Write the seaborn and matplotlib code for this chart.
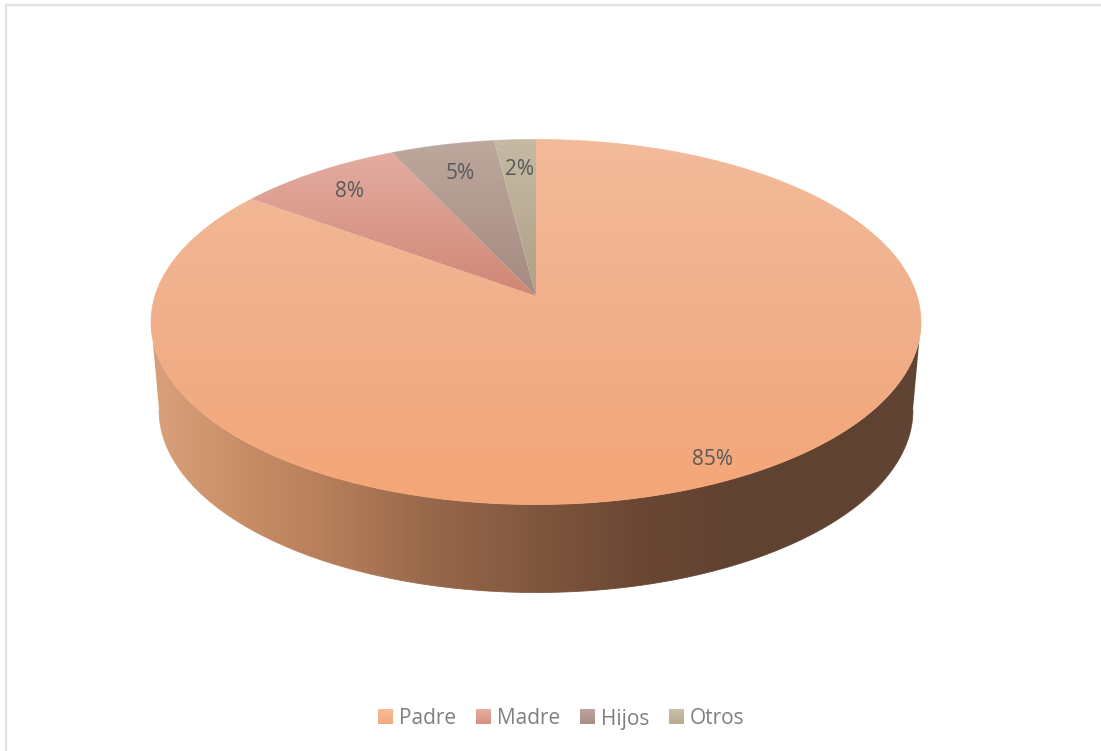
import numpy as np
import matplotlib
matplotlib.use("Agg")
import matplotlib.pyplot as plt
from matplotlib.collections import LineCollection
from matplotlib.patches import Polygon, Patch
from matplotlib.lines import Line2D
import seaborn as sns

# Household member shares
categories = ["Padre", "Madre", "Hijos", "Otros"]
shares = [85, 8, 5, 2]
label_radius = [0.90, 0.84, 0.80, 0.80]

# Top-to-bottom shading of each slice on the upper face
face_stops = [
    ["#F3BB9A", "#F0AF8A", "#F4A677"],
    ["#E4ACA1", "#DA9A8B", "#D08674"],
    ["#BDA89E", "#B1998F", "#A48A80"],
    ["#C6BAA4", "#BBAD95", "#AFA086"],
]
# Legend swatch shading
swatch_stops = [
    ["#F9BC98", "#F4A87A"],
    ["#E6AFA3", "#D68F7E"],
    ["#BBA69E", "#A88E84"],
    ["#CBBEAA", "#B9A98D"],
]

# Left-to-right shading of the outer wall
wall_colors = ["#D9A17B", "#C78D66", "#B27B58", "#96664A", "#80573E",
               "#6C4834", "#604231", "#604231", "#604433"]

sns.set_theme(style="white")
plt.rcParams["font.family"] = ["Open Sans", "DejaVu Sans"]
TEXT = "#595959"

# Perspective disk on a pixel-sized canvas
CX, CY = 536.0, 322.0
RX, RY = 381.0, 182.5
TILT = 0.142
WALL_DROP, WALL_SHRINK = 88.0, 0.979


def project(theta, r=1.0):
    """Map a clockwise angle from twelve o'clock on the disk to the canvas."""
    sx, cy = r * np.sin(theta), r * np.cos(theta)
    den = 1 + TILT * cy
    return CX + RX * sx / den, CY - (RY * cy + RY * TILT) / den


def vertical_shade(colors):
    """Column image and colormap for a top-to-bottom blend."""
    return np.linspace(0, 1, 512).reshape(-1, 1), sns.blend_palette(colors, as_cmap=True)


fig = plt.figure(figsize=(11.01, 7.51), dpi=100)
ax = fig.add_axes([0, 0, 1, 1])
ax.set_axis_off()

# Outer wall: lower half of the rim joined to the lower half of the floor ellipse
t = np.linspace(0, np.pi, 300)
upper = np.column_stack([CX + 385 * np.cos(t), CY + RY * np.sin(t)])
lower = np.column_stack([CX + 385 * WALL_SHRINK * np.cos(t),
                         CY + WALL_DROP + RY * np.sin(t)])
wall = Polygon(np.vstack([upper, lower[::-1]]), closed=True, fc="none", ec="none")
ax.add_patch(wall)
wall_cmap = sns.blend_palette(wall_colors, as_cmap=True)
WALL_LEFT, WALL_RIGHT = 150, 922
img = ax.imshow(np.linspace(0, 1, 512).reshape(1, -1), cmap=wall_cmap, aspect="auto",
                extent=[WALL_LEFT, WALL_RIGHT, 600, 320], zorder=1)
img.set_clip_path(wall)

# Hairline along the floor edge, tinted with the wall colour beneath it
segments = np.stack([lower[:-1], lower[1:]], axis=1)
tint = wall_cmap((lower[:-1, 0] - WALL_LEFT) / (WALL_RIGHT - WALL_LEFT))
ax.add_collection(LineCollection(segments, colors=tint, linewidths=0.6, zorder=1))

# Upper face: slices run clockwise from twelve o'clock
edges = np.cumsum([0] + shares) / sum(shares) * 2 * np.pi
apex = project(0.0, 0.0)
for i, name in enumerate(categories):
    th = np.linspace(edges[i], edges[i + 1], 400)
    xs, ys = project(th)
    xy = np.vstack([[apex], np.column_stack([xs, ys])])
    patch = Polygon(xy, closed=True, fc="none", ec="none")
    ax.add_patch(patch)
    data, shade = vertical_shade(face_stops[i])
    top_y, bot_y = xy[:, 1].min(), xy[:, 1].max()
    im = ax.imshow(data, cmap=shade, aspect="auto",
                   extent=[xy[:, 0].min(), xy[:, 0].max(), bot_y, top_y], zorder=2)
    im.set_clip_path(patch)

    # soften the clipped rim with a hairline following the local shade
    arc = np.column_stack([xs, ys])
    arc_segs = np.stack([arc[:-1], arc[1:]], axis=1)
    arc_tint = shade((arc[:-1, 1] - top_y) / (bot_y - top_y))
    ax.add_collection(LineCollection(arc_segs, colors=arc_tint, linewidths=0.6, zorder=2.5))

    mid_angle = (edges[i] + edges[i + 1]) / 2
    lx, ly = project(mid_angle, label_radius[i])
    ax.text(lx + 0.5, ly + 1.5, f"{shares[i]}%", ha="center", va="center", fontsize=15,
            color=TEXT, zorder=3)

# Thin frame on the top and left of the canvas
frame = "#E2E2E2"
ax.add_line(Line2D([6, 6], [5, 751], color=frame, lw=1.6, solid_capstyle="butt"))
ax.add_line(Line2D([5, 1101], [5, 5], color=frame, lw=1.6, solid_capstyle="butt"))

ax.set_xlim(0, 1101)
ax.set_ylim(751, 0)

handles = [Patch(fc=c[0], ec="none", label=n) for c, n in zip(swatch_stops, categories)]
leg = ax.legend(handles=handles, loc="center", bbox_to_anchor=(561.5 / 1101, 1 - 719 / 751),
                ncol=4, frameon=False, fontsize=15, labelcolor="#7F7F7F",
                handlelength=0.68, handleheight=0.68, handletextpad=0.32,
                columnspacing=0.95, borderpad=0)

# Shade the legend swatches the same way as the slices
fig.canvas.draw()
to_data = ax.transData.inverted()
for legend_patch, colors in zip(leg.get_patches(), swatch_stops):
    box = legend_patch.get_window_extent().transformed(to_data)
    data, shade = vertical_shade(colors)
    ax.imshow(data, cmap=shade, aspect="auto", zorder=6,
              extent=[box.x0, box.x1, max(box.y0, box.y1), min(box.y0, box.y1)])
ax.set_xlim(0, 1101)
ax.set_ylim(751, 0)

fig.savefig("out.png", dpi=100, facecolor="white")
